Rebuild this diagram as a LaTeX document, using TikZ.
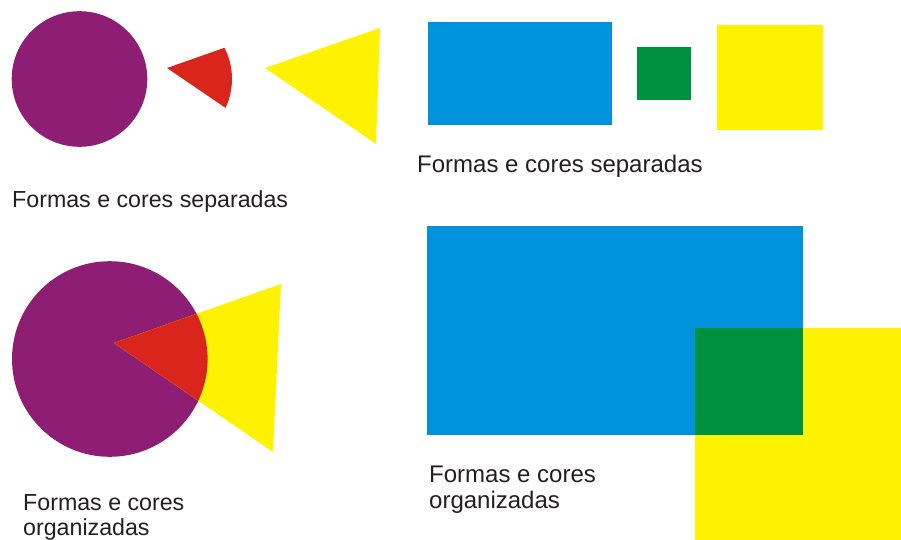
\documentclass[tikz,border=0pt]{standalone}
\usepackage{fontspec}
\setmainfont{Liberation Sans}
\definecolor{cpurple}{HTML}{8E1E74}
\definecolor{cred}{HTML}{DA251D}
\definecolor{cyellow}{HTML}{FFF200}
\definecolor{cblue}{HTML}{0093DD}
\definecolor{cgreen}{HTML}{00913F}
\definecolor{ctxt}{HTML}{231F20}
\begin{document}
\begin{tikzpicture}[x=1pt,y=-1pt,
  lbl/.style={anchor=base west, inner sep=0pt, text=ctxt, font=\fontsize{24}{26}\selectfont, align=left},
  lbls/.style={lbl, font=\fontsize{23.2}{25}\selectfont}]
\useasboundingbox (0,0) rectangle (901,540);
% ---- top left: separated
\fill[cpurple] (79.5,79) circle (67.8pt);
\begin{scope}
  \clip (164.2,79) circle (67.8pt);
  \fill[cred] (167,68) -- (282,27.5) -- (277,143) -- cycle;
\end{scope}
\fill[cyellow] (265,68) -- (380,28) -- (376,144) -- cycle;
\node[lbls] (t1) at (12,207) {Formas e cores separadas};
% ---- top right: separated
\fill[cblue] (427.7,22.3) rectangle (612.3,125);
\fill[cgreen] (637.3,47.3) rectangle (691.3,99.7);
\fill[cyellow] (717,25) rectangle (823.3,130.3);
\node[lbl] (t2) at (417,172) {Formas e cores separadas};
% ---- bottom left: organized
\fill[cpurple] (109.8,359) circle (97.8pt);
\fill[cyellow] (114,343) -- (281,284) -- (273,452) -- cycle;
\begin{scope}
  \clip (109.8,359) circle (97.8pt);
  \fill[cred] (114,343) -- (281,284) -- (273,452) -- cycle;
\end{scope}
\node[lbls] (t3) at (23,535) {Formas e cores\\organizadas};
% ---- bottom right: organized
\fill[cblue] (426.7,225.7) rectangle (802.7,435);
\fill[cyellow] (694.7,328) rectangle (901,540);
\fill[cgreen] (694.7,328) rectangle (802.7,435);
\node[lbl] (t4) at (429,508) {Formas e cores\\organizadas};
\end{tikzpicture}
\end{document}
